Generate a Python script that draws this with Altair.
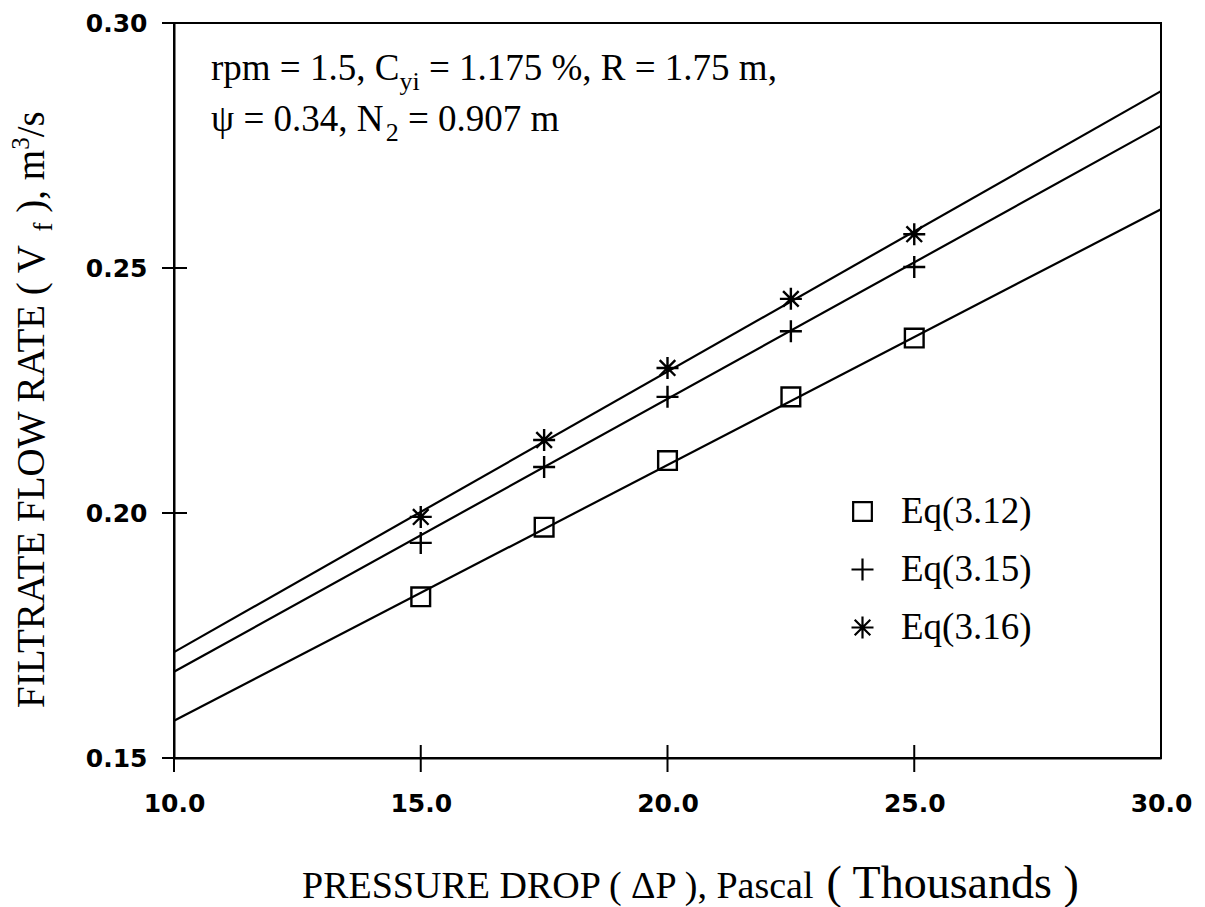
import altair as alt
import pandas as pd

# ---------------- data ----------------
X_PTS = [15.0, 17.5, 20.0, 22.5, 25.0]
EQ312 = [0.1829, 0.1971, 0.2107, 0.2237, 0.2357]
EQ315 = [0.1939, 0.2094, 0.2237, 0.2371, 0.2502]
EQ316 = [0.1992, 0.2149, 0.2296, 0.2437, 0.2569]

LINE_X = [10.0, 30.0]
LINE312 = [0.1576, 0.2620]
LINE315 = [0.1676, 0.2790]
LINE316 = [0.1716, 0.2861]

SERIES = ["Eq(3.12)", "Eq(3.15)", "Eq(3.16)"]
X_TICKS = [10, 15, 20, 25, 30]
X_TICK_MARKS = [10, 15, 20, 25]
Y_TICKS = [0.15, 0.20, 0.25, 0.30]

# ---------------- layout ----------------
W_PLOT, H_PLOT = 987, 735
OX, OY = 174, 23
SERIF = "Liberation Serif"
TICKFONT = "DejaVu Sans"

SQUARE = "M-0.85,-0.85H0.85V0.85H-0.85Z"
PLUS = "M-1,0H1M0,-1V1"
STAR = "M-1,0H1M0,-1V1M-0.71,-0.71L0.71,0.71M-0.71,0.71L0.71,-0.71"

pts = pd.DataFrame({
    "x": X_PTS * 3,
    "y": EQ312 + EQ315 + EQ316,
    "series": [SERIES[0]] * 5 + [SERIES[1]] * 5 + [SERIES[2]] * 5,
})
lines = pd.DataFrame({
    "x": LINE_X * 3,
    "y": LINE312 + LINE315 + LINE316,
    "series": [SERIES[0]] * 2 + [SERIES[1]] * 2 + [SERIES[2]] * 2,
})

xscale = alt.Scale(domain=[10, 30], nice=False, zero=False)
yscale = alt.Scale(domain=[0.15, 0.30], nice=False, zero=False)

xaxis = alt.Axis(values=X_TICKS, format=".1f", ticks=False, grid=False, title=None,
                 labelFont=TICKFONT, labelFontWeight="bold", labelFontSize=25,
                 labelColor="black", labelPadding=33, domainColor="black",
                 domainWidth=2, labelFlush=False)
yaxis = alt.Axis(values=Y_TICKS, format=".2f", ticks=False, grid=False, title=None,
                 labelFont=TICKFONT, labelFontWeight="bold", labelFontSize=25,
                 labelColor="black", labelPadding=27, domainColor="black",
                 domainWidth=2, labelFlush=False)

line_layer = alt.Chart(lines).mark_line(color="black", strokeWidth=2.2).encode(
    x=alt.X("x:Q", scale=xscale, axis=xaxis),
    y=alt.Y("y:Q", scale=yscale, axis=yaxis),
    detail="series:N",
)

point_layer = alt.Chart(pts).mark_point(filled=False, color="black", strokeWidth=2.4,
                                        opacity=1, size=484).encode(
    x=alt.X("x:Q", scale=xscale),
    y=alt.Y("y:Q", scale=yscale),
    shape=alt.Shape("series:N", scale=alt.Scale(domain=SERIES, range=[SQUARE, PLUS, STAR]),
                    legend=alt.Legend(title=None, orient="none", legendX=670, legendY=470,
                                      padding=0, symbolSize=484, symbolStrokeWidth=2.2,
                                      symbolStrokeColor="black", symbolFillColor="transparent",
                                      symbolType="circle",
                                      labelFont=SERIF, labelFontSize=37, labelColor="black",
                                      labelOffset=20, rowPadding=20, labelLimit=400)),
)

xt = pd.DataFrame({"v": X_TICK_MARKS})
xtick_layer = alt.Chart(xt).mark_rule(color="black", strokeWidth=2).encode(
    x=alt.X("v:Q", scale=xscale), y=alt.value(H_PLOT - 13), y2=alt.value(H_PLOT + 14))
yt = pd.DataFrame({"v": Y_TICKS})
ytick_layer = alt.Chart(yt).mark_rule(color="black", strokeWidth=2).encode(
    y=alt.Y("v:Q", scale=yscale), x=alt.value(-12), x2=alt.value(13))

# Times-like advance widths (per 1000 em) to chain text pieces
WID = {' ': 250, '%': 833, '(': 333, ')': 333, ',': 250, '.': 250, '/': 278, '=': 564,
       'A': 722, 'C': 667, 'D': 722, 'E': 611, 'F': 556, 'I': 333, 'L': 611, 'N': 722,
       'O': 722, 'P': 556, 'R': 667, 'S': 556, 'T': 611, 'U': 722, 'V': 722, 'W': 944,
       'a': 444, 'c': 444, 'd': 500, 'f': 333, 'h': 500, 'i': 278, 'l': 278, 'm': 778,
       'n': 500, 'o': 500, 'p': 500, 'r': 333, 's': 389, 'u': 500, 'y': 500,
       'ψ': 686, 'Δ': 612}


def tw(s, fs):
    return sum(WID.get(c, 500) for c in s) * fs / 1000.0


one = pd.DataFrame({"d": [0]})
text_layers = []


def piece(text, px, py, fs, angle=0):
    text_layers.append(
        alt.Chart(one).mark_text(text=text, font=SERIF, fontSize=fs, color="black",
                                 align="left", baseline="alphabetic", angle=angle)
        .encode(x=alt.value(px - OX), y=alt.value(py - OY)))


def hline(parts, x0, base):
    x = x0
    for txt, fs, shift in parts:
        lead = len(txt) - len(txt.lstrip(' '))
        x += tw(' ' * lead, fs)
        body = txt.lstrip(' ')
        piece(body, x, base + shift, fs)
        x += tw(body, fs)


FS_A = 37
hline([("rpm = 1.5, C", FS_A, 0), ("yi", 26, 10), (" = 1.175 %, R = 1.75 m,", FS_A, 0)], 211, 80)
hline([("ψ = 0.34, N", FS_A, 0), ("2", 26, 10), (" = 0.907 m", FS_A, 0)], 211, 131)

# x title
hline([("PRESSURE DROP ( ΔP ), Pascal", 38, 0), (" ( Thousands )", 46, 0)], 302, 898)

# y title (rotated, reading upward)
FS_Y = 39
ybase_x = 44
yy = 708
for txt, fs, shift in [("FILTRATE FLOW RATE ( V", FS_Y, 0), ("f", 27, 8), (" ), m", FS_Y, 0),
                       ("3", 25, -15), ("/s", FS_Y, 0)]:
    lead = len(txt) - len(txt.lstrip(' '))
    yy -= tw(' ' * lead, fs)
    body = txt.lstrip(' ')
    piece(body, ybase_x + shift, yy, fs, angle=270)
    yy -= tw(body, fs)

chart = alt.layer(line_layer, point_layer, xtick_layer, ytick_layer, *text_layers).properties(
    width=W_PLOT, height=H_PLOT,
    autosize=alt.AutoSizeParams(type="none"),
    padding={"left": OX, "top": OY, "right": 1205 - OX - W_PLOT, "bottom": 907 - OY - H_PLOT},
    background="white",
).configure_view(stroke="black", strokeWidth=2)

chart.save("out.html", embed_options={"renderer": "svg", "actions": False})
